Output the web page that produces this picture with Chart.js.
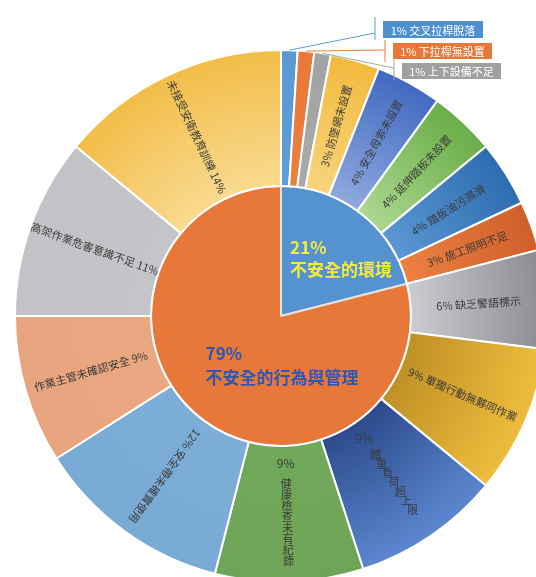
<!DOCTYPE html>
<html lang="zh-Hant">
<head>
<meta charset="utf-8">
<title>墜落災害原因分析</title>
<script src="https://cdn.jsdelivr.net/npm/chart.js@4.4.1/dist/chart.umd.min.js"></script>
<style>
  html, body { margin: 0; padding: 0; background: #fff; overflow: hidden; }
  #wrap { position: absolute; left: 0; top: 0; width: 562px; height: 632px; }
</style>
</head>
<body>
<div id="wrap"><canvas id="causeChart"></canvas></div>
<script>
// inner ring: two main groups
const groupNames = ["不安全的環境", "不安全的行為與管理"];
const groupValues = [21, 79];

// outer ring: causes, clockwise from the top
const causeNames = [
  "交叉拉桿脫落", "下拉桿無設置", "上下設備不足", "防墜網未設置",
  "安全母索未設置", "延伸踏板未設置", "踏板油污濕滑", "施工照明不足",
  "缺乏警語標示", "單獨行動無夥同作業", "體重負荷超上限", "健康檢查未有紀錄",
  "安全帶未確實使用", "作業主管未確認安全", "高架作業危害意識不足", "未接受安衛教育訓練"
];
const causeValues = [1, 1, 1, 3, 4, 4, 4, 3, 6, 9, 9, 9, 12, 9, 11, 14];

// styling
const groupColors = ["#5592d0", "#e8783a"];
const groupTextColors = ["#f7ea3c", "#2f56b4"];
const causeInner = [
  "#5f9dd6", "#ec7f3c", "#a8a8a8", "#f8d47e", "#8ea9de", "#acd78f", "#5b97d3", "#ec8142",
  "#cbccd0", "#bf9026", "#2d4b8c", "#71a95a", "#7caed7", "#eaa882", "#c4c5c8", "#f9da90"
];
const causeOuter = [
  "#5a98d2", "#e8793a", "#a3a3a3", "#f2ba3c", "#4169c0", "#69ad48", "#2e6cb0", "#cf5f2a",
  "#8b8c90", "#efbd3c", "#5b87d0", "#6ea456", "#78aad4", "#e8a47e", "#c2c3c6", "#f2bd48"
];
const labelModes = [
  "callout", "callout", "callout", "radial", "radial", "radial", "radial", "radial",
  "radial", "radial", "stacked", "stacked", "radial", "flip", "flip", "flip"
];
// callout boxes for the thin slices, relative to the chart centre
const callouts = [
  { elbow: [94, -283], bar: [-299, -276], box: [102, -295, 100, 17], line: "#5b9bd5", fill: "#4d8fcf" },
  { elbow: [104, -266], bar: [-276, -254], box: [112, -273, 99, 16], line: "#ed7d31", fill: "#e8773a" },
  { elbow: [113, -248], bar: [-256, -236], box: [121, -253, 99, 16], line: "#a5a5a5", fill: "#a0a0a0" }
];

const outerWeight = 136;
const innerWeight = 130;
const RADIUS = 266;
const FONT = "'Noto Sans CJK TC', 'Noto Sans', sans-serif";

function ringGradient(context) {
  const i = context.dataIndex;
  const chart = context.chart;
  const area = chart.chartArea;
  if (!area) return causeOuter[i];
  const cx = (area.left + area.right) / 2;
  const cy = (area.top + area.bottom) / 2;
  const r0 = RADIUS * innerWeight / (innerWeight + outerWeight);
  const g = chart.ctx.createRadialGradient(cx, cy, r0, cx, cy, RADIUS);
  g.addColorStop(0, causeInner[i]);
  g.addColorStop(1, causeOuter[i]);
  return g;
}

const sliceLabels = {
  id: "sliceLabels",
  afterDatasetsDraw(chart) {
    const ctx = chart.ctx;
    const outer = chart.getDatasetMeta(0).data;
    const inner = chart.getDatasetMeta(1).data;
    ctx.save();
    ctx.textBaseline = "middle";

    outer.forEach((arc, i) => {
      const p = arc.getProps(["x", "y", "startAngle", "endAngle", "innerRadius", "outerRadius"], true);
      const mid = (p.startAngle + p.endAngle) / 2;
      const pct = causeValues[i] + "%";
      const name = causeNames[i];
      const mode = labelModes[i];
      const rMid = (p.innerRadius + p.outerRadius) / 2;
      ctx.font = "11px " + FONT;
      ctx.fillStyle = "#3b3b3b";

      if (mode === "callout") {
        const c = callouts[i];
        const sx = p.x + p.outerRadius * Math.cos(mid);
        const sy = p.y + p.outerRadius * Math.sin(mid);
        ctx.strokeStyle = c.line;
        ctx.lineWidth = 1;
        ctx.beginPath();
        ctx.moveTo(sx, sy);
        ctx.lineTo(p.x + c.elbow[0], p.y + c.elbow[1]);
        ctx.moveTo(p.x + c.elbow[0], p.y + c.bar[0]);
        ctx.lineTo(p.x + c.elbow[0], p.y + c.bar[1]);
        ctx.stroke();
        const [bx, by, bw, bh] = c.box;
        ctx.fillStyle = c.fill;
        ctx.fillRect(p.x + bx, p.y + by, bw, bh);
        ctx.fillStyle = "#ffffff";
        ctx.textAlign = "center";
        ctx.fillText(pct + " " + name, p.x + bx + bw / 2, p.y + by + bh / 2 + 1);
      } else if (mode === "stacked") {
        ctx.textAlign = "center";
        const cos = Math.cos(mid), sin = Math.sin(mid);
        let r = p.innerRadius + 18;
        ctx.font = "12px " + FONT;
        ctx.fillText(pct, p.x + r * cos, p.y + r * sin);
        ctx.font = "11px " + FONT;
        r = p.innerRadius + 38;
        for (const ch of name) {
          ctx.fillText(ch, p.x + r * cos, p.y + r * sin);
          r += 11;
        }
      } else {
        const text = mode === "flip" ? name + " " + pct : pct + " " + name;
        ctx.save();
        ctx.translate(p.x + rMid * Math.cos(mid), p.y + rMid * Math.sin(mid));
        ctx.rotate(mode === "flip" ? mid + Math.PI : mid);
        ctx.textAlign = "center";
        ctx.fillText(text, 0, 0);
        ctx.restore();
      }
    });

    // group labels inside the pie
    const c0 = inner[0].getProps(["x", "y", "outerRadius"], true);
    const R = c0.outerRadius;
    const spots = [[0.07, -0.53, -0.36], [-0.58, 0.29, 0.47]];
    ctx.textAlign = "left";
    ctx.font = "bold 17px " + FONT;
    groupNames.forEach((name, i) => {
      const [dx, y1, y2] = spots[i];
      ctx.fillStyle = groupTextColors[i];
      ctx.fillText(groupValues[i] + "%", c0.x + dx * R, c0.y + y1 * R);
      ctx.fillText(name, c0.x + dx * R, c0.y + y2 * R);
    });
    ctx.restore();
  }
};

new Chart(document.getElementById("causeChart"), {
  type: "doughnut",
  data: {
    labels: causeNames,
    datasets: [
      {
        data: causeValues,
        backgroundColor: ringGradient,
        borderColor: "#ffffff",
        borderWidth: 2,
        weight: outerWeight
      },
      {
        data: groupValues,
        backgroundColor: groupColors,
        borderColor: "#e2e2e2",
        borderWidth: 2,
        weight: innerWeight
      }
    ]
  },
  options: {
    responsive: true,
    maintainAspectRatio: false,
    animation: false,
    cutout: 0,
    radius: RADIUS,
    layout: { padding: 0 },
    plugins: {
      legend: { display: false },
      tooltip: { enabled: false }
    }
  },
  plugins: [sliceLabels]
});
</script>
</body>
</html>
